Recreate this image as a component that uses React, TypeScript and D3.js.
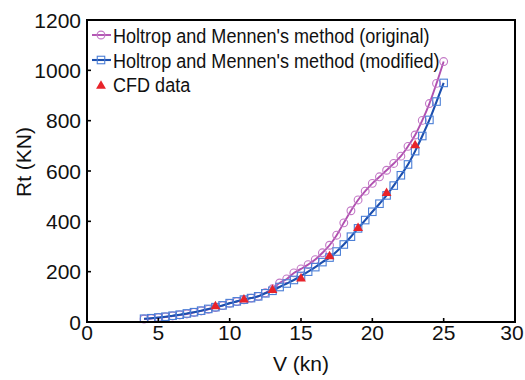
import React from "react";
import * as d3 from "d3";

const speeds = [4, 4.5, 5, 5.5, 6, 6.5, 7, 7.5, 8, 8.5, 9, 9.5, 10, 10.5, 11, 11.5, 12, 12.5, 13, 13.5, 14, 14.5, 15, 15.5, 16, 16.5, 17, 17.5, 18, 18.5, 19, 19.5, 20, 20.5, 21, 21.5, 22, 22.5, 23, 23.5, 24, 24.5, 25];
const originalRt = [12, 14, 17, 20, 24, 28, 32, 38, 44, 50, 57, 65, 74, 81, 88, 95, 102, 116, 132, 155, 171, 195, 211, 228, 248, 275, 305, 345, 394, 442, 485, 520, 551, 577, 603, 630, 659, 698, 743, 801, 868, 948, 1035];
const modifiedRt = [13, 15, 18, 21, 25, 29, 34, 39, 45, 52, 59, 66, 75, 82, 89, 95, 102, 114, 124, 139, 153, 167, 183, 200, 218, 238, 256, 280, 308, 339, 372, 405, 438, 470, 503, 542, 583, 626, 679, 739, 803, 876, 950];
const cfdSpeeds = [9, 11, 13, 15, 17, 19, 21, 23];
const cfdRt = [60, 87, 125, 170, 259, 371, 510, 700];
const xTicks = [0, 5, 10, 15, 20, 25, 30];
const yTicks = [0, 200, 400, 600, 800, 1000, 1200];
const legendLabels = ["Holtrop and Mennen's method (original)", "Holtrop and Mennen's method (modified)", "CFD data"];

const W = 525, H = 380;
const FONT = "'Liberation Sans', Arial, Helvetica, sans-serif";
const PURPLE = "#b050b0";
const PURPLE_M = "#c379c6";
const BLUE = "#1c4fae";
const BLUE_M = "#4a7ed6";
const RED = "#e8232a";

export default function App() {
  const x = d3.scaleLinear().domain([0, 30]).range([87, 515]);
  const y = d3.scaleLinear().domain([0, 1200]).range([322, 20]);
  const line = d3
    .line<[number, number]>()
    .x((d) => x(d[0]))
    .y((d) => y(d[1]))
    .curve(d3.curveCatmullRom);
  const orig: [number, number][] = speeds.map((s, i) => [s, originalRt[i]]);
  const mod: [number, number][] = speeds.map((s, i) => [s, modifiedRt[i]]);
  const tri = d3.symbol().type(d3.symbolTriangle).size(42)();
  const sq = 7.5;

  return (
    <svg width={W} height={H} style={{ position: "absolute", left: 0, top: 0, background: "#fff" }} fontFamily={FONT}>
      {/* series */}
      <path d={line(orig) || ""} fill="none" stroke={PURPLE} strokeWidth={1.9} />
      {orig.map((d, i) => (
        <circle key={"c" + i} cx={x(d[0])} cy={y(d[1])} r={3.9} fill="none" stroke={PURPLE_M} strokeWidth={1.1} />
      ))}
      <path d={line(mod) || ""} fill="none" stroke={BLUE} strokeWidth={2.1} />
      {mod.map((d, i) => (
        <rect key={"s" + i} x={x(d[0]) - sq / 2} y={y(d[1]) - sq / 2} width={sq} height={sq} fill="none" stroke={BLUE_M} strokeWidth={1.1} />
      ))}
      {cfdSpeeds.map((s, i) => (
        <path key={"t" + i} d={tri || ""} transform={`translate(${x(s)},${y(cfdRt[i]) - 0.5})`} fill={RED} />
      ))}

      {/* frame */}
      <rect x={87} y={20} width={428} height={302} fill="none" stroke="#000" strokeWidth={2} />
      {xTicks.map((t) => (
        <g key={"x" + t}>
          <line x1={x(t)} x2={x(t)} y1={322} y2={318} stroke="#000" strokeWidth={1.6} />
          <text x={Math.min(x(t), 512)} y={340} textAnchor="middle" fontSize={21} fill="#111">{t}</text>
        </g>
      ))}
      {yTicks.map((t) => (
        <g key={"y" + t}>
          <line x1={87} x2={91} y1={y(t)} y2={y(t)} stroke="#000" strokeWidth={1.6} />
          <text x={81} y={y(t) + 7.5} textAnchor="end" fontSize={21} fill="#111">{t}</text>
        </g>
      ))}
      <text x={301} y={371} textAnchor="middle" fontSize={21} fill="#111">V (kn)</text>
      <text transform="translate(31,162) rotate(-90)" textAnchor="middle" fontSize={21} fill="#111">Rt (KN)</text>

      {/* legend */}
      <g>
        <line x1={92} x2={111} y1={35} y2={35} stroke={PURPLE} strokeWidth={1.9} />
        <circle cx={101} cy={35} r={3.9} fill="none" stroke={PURPLE_M} strokeWidth={1.1} />
        <line x1={92} x2={111} y1={60} y2={60} stroke={BLUE} strokeWidth={2.1} />
        <rect x={101 - sq / 2} y={60 - sq / 2} width={sq} height={sq} fill="none" stroke={BLUE_M} strokeWidth={1.1} />
        <path d={tri || ""} transform="translate(101,86)" fill={RED} />
        {legendLabels.map((l, i) => (
          <text key={l} transform={`translate(113,${43 + i * 24.5}) scale(0.86,1)`} fontSize={21} fill="#111">{l}</text>
        ))}
      </g>
    </svg>
  );
}
